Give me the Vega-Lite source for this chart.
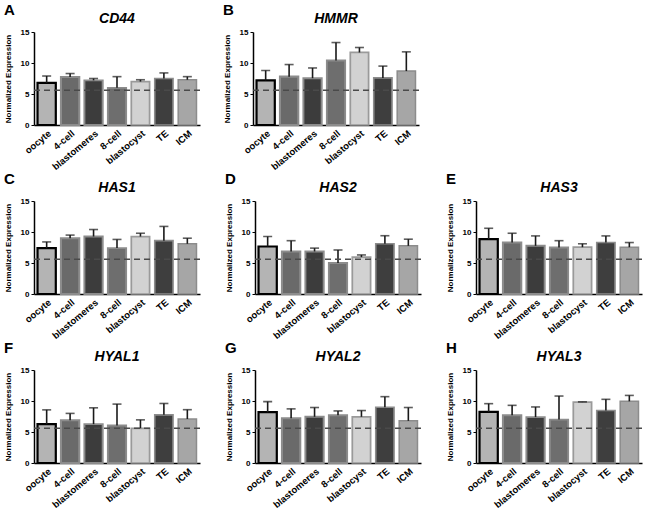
{
  "$schema": "https://vega.github.io/schema/vega-lite/v6.json",
  "padding": {"left": 4, "right": 4, "top": 3, "bottom": 0},
  "spacing": 0,
  "config": {
    "font": "Liberation Sans",
    "view": {"stroke": null},
    "axis": {"domainColor": "#000", "tickColor": "#000", "labelColor": "#000", "titleColor": "#000", "grid": false},
    "axisY": {"tickCount": 4, "labelOverlap": false, "titleFontSize": 8, "titleFontWeight": "bold", "labelFontSize": 8, "labelFontWeight": "bold", "tickSize": 3, "domainWidth": 1.5, "titlePadding": 8}
  },
  "datasets": {
    "expr": [
      {"gene": "CD44", "stage": "oocyte", "mean": 6.8, "upper": 7.9},
      {"gene": "CD44", "stage": "4-cell", "mean": 7.75, "upper": 8.3},
      {"gene": "CD44", "stage": "blastomeres", "mean": 7.2, "upper": 7.5},
      {"gene": "CD44", "stage": "8-cell", "mean": 6.0, "upper": 7.8},
      {"gene": "CD44", "stage": "blastocyst", "mean": 7.0, "upper": 7.3},
      {"gene": "CD44", "stage": "TE", "mean": 7.5, "upper": 8.4},
      {"gene": "CD44", "stage": "ICM", "mean": 7.3, "upper": 7.8},
      {"gene": "HMMR", "stage": "oocyte", "mean": 7.2, "upper": 8.8},
      {"gene": "HMMR", "stage": "4-cell", "mean": 7.8, "upper": 9.75},
      {"gene": "HMMR", "stage": "blastomeres", "mean": 7.55, "upper": 9.2},
      {"gene": "HMMR", "stage": "8-cell", "mean": 10.4, "upper": 13.3},
      {"gene": "HMMR", "stage": "blastocyst", "mean": 11.7, "upper": 12.5},
      {"gene": "HMMR", "stage": "TE", "mean": 7.6, "upper": 9.5},
      {"gene": "HMMR", "stage": "ICM", "mean": 8.7, "upper": 11.8},
      {"gene": "HAS1", "stage": "oocyte", "mean": 7.4, "upper": 8.4},
      {"gene": "HAS1", "stage": "4-cell", "mean": 9.0, "upper": 9.5},
      {"gene": "HAS1", "stage": "blastomeres", "mean": 9.27, "upper": 10.4},
      {"gene": "HAS1", "stage": "8-cell", "mean": 7.4, "upper": 8.8},
      {"gene": "HAS1", "stage": "blastocyst", "mean": 9.27, "upper": 9.8},
      {"gene": "HAS1", "stage": "TE", "mean": 8.6, "upper": 10.9},
      {"gene": "HAS1", "stage": "ICM", "mean": 8.1, "upper": 9.0},
      {"gene": "HAS2", "stage": "oocyte", "mean": 7.66, "upper": 9.27},
      {"gene": "HAS2", "stage": "4-cell", "mean": 6.86, "upper": 8.6},
      {"gene": "HAS2", "stage": "blastomeres", "mean": 6.86, "upper": 7.4},
      {"gene": "HAS2", "stage": "8-cell", "mean": 5.0, "upper": 7.1},
      {"gene": "HAS2", "stage": "blastocyst", "mean": 5.95, "upper": 6.3},
      {"gene": "HAS2", "stage": "TE", "mean": 8.1, "upper": 9.4},
      {"gene": "HAS2", "stage": "ICM", "mean": 7.77, "upper": 8.84},
      {"gene": "HAS3", "stage": "oocyte", "mean": 8.84, "upper": 10.6},
      {"gene": "HAS3", "stage": "4-cell", "mean": 8.3, "upper": 9.8},
      {"gene": "HAS3", "stage": "blastomeres", "mean": 7.77, "upper": 9.37},
      {"gene": "HAS3", "stage": "8-cell", "mean": 7.5, "upper": 8.6},
      {"gene": "HAS3", "stage": "blastocyst", "mean": 7.55, "upper": 8.1},
      {"gene": "HAS3", "stage": "TE", "mean": 8.3, "upper": 9.37},
      {"gene": "HAS3", "stage": "ICM", "mean": 7.55, "upper": 8.3},
      {"gene": "HYAL1", "stage": "oocyte", "mean": 6.27, "upper": 8.57},
      {"gene": "HYAL1", "stage": "4-cell", "mean": 6.9, "upper": 8.0},
      {"gene": "HYAL1", "stage": "blastomeres", "mean": 6.27, "upper": 8.9},
      {"gene": "HYAL1", "stage": "8-cell", "mean": 6.05, "upper": 9.5},
      {"gene": "HYAL1", "stage": "blastocyst", "mean": 5.6, "upper": 6.96},
      {"gene": "HYAL1", "stage": "TE", "mean": 7.77, "upper": 9.6},
      {"gene": "HYAL1", "stage": "ICM", "mean": 7.1, "upper": 8.6},
      {"gene": "HYAL2", "stage": "oocyte", "mean": 8.2, "upper": 9.9},
      {"gene": "HYAL2", "stage": "4-cell", "mean": 7.23, "upper": 8.73},
      {"gene": "HYAL2", "stage": "blastomeres", "mean": 7.45, "upper": 8.95},
      {"gene": "HYAL2", "stage": "8-cell", "mean": 7.7, "upper": 8.4},
      {"gene": "HYAL2", "stage": "blastocyst", "mean": 7.45, "upper": 8.46},
      {"gene": "HYAL2", "stage": "TE", "mean": 9.0, "upper": 10.7},
      {"gene": "HYAL2", "stage": "ICM", "mean": 6.8, "upper": 8.95},
      {"gene": "HYAL3", "stage": "oocyte", "mean": 8.24, "upper": 9.57},
      {"gene": "HYAL3", "stage": "4-cell", "mean": 7.7, "upper": 9.3},
      {"gene": "HYAL3", "stage": "blastomeres", "mean": 7.4, "upper": 9.04},
      {"gene": "HYAL3", "stage": "8-cell", "mean": 7.0, "upper": 10.8},
      {"gene": "HYAL3", "stage": "blastocyst", "mean": 9.82, "upper": 9.86},
      {"gene": "HYAL3", "stage": "TE", "mean": 8.46, "upper": 10.27},
      {"gene": "HYAL3", "stage": "ICM", "mean": 9.95, "upper": 10.9}
    ],
    "ref": [{"baseline": 5.6}]
  },
  "vconcat": [
    {"spacing": 22, "hconcat": [
      {"title": {"text": "A", "anchor": "start", "fontSize": 15, "fontWeight": "bold", "offset": -6},
       "vconcat": [{
        "width": 166, "height": 93,
        "title": {"text": "CD44", "fontStyle": "italic", "fontWeight": "bold", "fontSize": 14, "offset": 2},
        "layer": [
          {"data": {"name": "expr"}, "transform": [{"filter": "datum.gene === 'CD44'"}],
           "mark": {"type": "bar"},
           "encoding": {
             "x": {"field": "stage", "type": "nominal", "sort": ["oocyte","4-cell","blastomeres","8-cell","blastocyst","TE","ICM"], "scale": {"paddingInner": 0.22, "paddingOuter": 0.15}, "axis": {"title": null, "labelAngle": -40, "labelFontSize": 9.5, "labelFontWeight": "bold", "ticks": false, "labelPadding": 3, "domainWidth": 1.5}},
             "y": {"field": "mean", "type": "quantitative", "title": "Normalized Expression", "scale": {"domain": [0, 15], "padding": 0, "nice": false}},
             "fill": {"field": "stage", "type": "nominal", "scale": {"domain": ["oocyte","4-cell","blastomeres","8-cell","blastocyst","TE","ICM"], "range": ["#b4b4b4","#6a6a6a","#3c3c3c","#6e6e6e","#d2d2d2","#3e3e3e","#a6a6a6"]}, "legend": null},
             "stroke": {"field": "stage", "type": "nominal", "scale": {"domain": ["oocyte","4-cell","blastomeres","8-cell","blastocyst","TE","ICM"], "range": ["#000000","#8c8c8c","#8c8c8c","#8c8c8c","#9a9a9a","#8c8c8c","#8c8c8c"]}, "legend": null},
             "strokeWidth": {"field": "stage", "type": "nominal", "scale": {"domain": ["oocyte","4-cell","blastomeres","8-cell","blastocyst","TE","ICM"], "range": [2.2,1.5,1.5,1.5,1.5,1.5,1.5]}, "legend": null}
           }},
          {"data": {"name": "expr"}, "transform": [{"filter": "datum.gene === 'CD44'"}],
           "mark": {"type": "rule", "color": "#1a1a1a", "strokeWidth": 1.6},
           "encoding": {"x": {"field": "stage", "type": "nominal", "sort": ["oocyte","4-cell","blastomeres","8-cell","blastocyst","TE","ICM"]}, "y": {"field": "mean", "type": "quantitative", "title": "Normalized Expression"}, "y2": {"field": "upper"}}},
          {"data": {"name": "expr"}, "transform": [{"filter": "datum.gene === 'CD44'"}],
           "mark": {"type": "tick", "color": "#1a1a1a", "thickness": 1.6, "size": 9},
           "encoding": {"x": {"field": "stage", "type": "nominal", "sort": ["oocyte","4-cell","blastomeres","8-cell","blastocyst","TE","ICM"]}, "y": {"field": "upper", "type": "quantitative", "title": "Normalized Expression"}}},
          {"data": {"name": "ref"},
           "mark": {"type": "rule", "color": "#4a4a4a", "strokeWidth": 1.5, "strokeDash": [6, 4]},
           "encoding": {"y": {"field": "baseline", "type": "quantitative", "title": "Normalized Expression"}}}
        ]}]},
      {"title": {"text": "B", "anchor": "start", "fontSize": 15, "fontWeight": "bold", "offset": -6},
       "vconcat": [{
        "width": 166, "height": 93,
        "title": {"text": "HMMR", "fontStyle": "italic", "fontWeight": "bold", "fontSize": 14, "offset": 2},
        "layer": [
          {"data": {"name": "expr"}, "transform": [{"filter": "datum.gene === 'HMMR'"}],
           "mark": {"type": "bar"},
           "encoding": {
             "x": {"field": "stage", "type": "nominal", "sort": ["oocyte","4-cell","blastomeres","8-cell","blastocyst","TE","ICM"], "scale": {"paddingInner": 0.22, "paddingOuter": 0.15}, "axis": {"title": null, "labelAngle": -40, "labelFontSize": 9.5, "labelFontWeight": "bold", "ticks": false, "labelPadding": 3, "domainWidth": 1.5}},
             "y": {"field": "mean", "type": "quantitative", "title": "Normalized Expression", "scale": {"domain": [0, 15], "padding": 0, "nice": false}},
             "fill": {"field": "stage", "type": "nominal", "scale": {"domain": ["oocyte","4-cell","blastomeres","8-cell","blastocyst","TE","ICM"], "range": ["#b4b4b4","#6a6a6a","#3c3c3c","#6e6e6e","#d2d2d2","#3e3e3e","#a6a6a6"]}, "legend": null},
             "stroke": {"field": "stage", "type": "nominal", "scale": {"domain": ["oocyte","4-cell","blastomeres","8-cell","blastocyst","TE","ICM"], "range": ["#000000","#8c8c8c","#8c8c8c","#8c8c8c","#9a9a9a","#8c8c8c","#8c8c8c"]}, "legend": null},
             "strokeWidth": {"field": "stage", "type": "nominal", "scale": {"domain": ["oocyte","4-cell","blastomeres","8-cell","blastocyst","TE","ICM"], "range": [2.2,1.5,1.5,1.5,1.5,1.5,1.5]}, "legend": null}
           }},
          {"data": {"name": "expr"}, "transform": [{"filter": "datum.gene === 'HMMR'"}],
           "mark": {"type": "rule", "color": "#1a1a1a", "strokeWidth": 1.6},
           "encoding": {"x": {"field": "stage", "type": "nominal", "sort": ["oocyte","4-cell","blastomeres","8-cell","blastocyst","TE","ICM"]}, "y": {"field": "mean", "type": "quantitative", "title": "Normalized Expression"}, "y2": {"field": "upper"}}},
          {"data": {"name": "expr"}, "transform": [{"filter": "datum.gene === 'HMMR'"}],
           "mark": {"type": "tick", "color": "#1a1a1a", "thickness": 1.6, "size": 9},
           "encoding": {"x": {"field": "stage", "type": "nominal", "sort": ["oocyte","4-cell","blastomeres","8-cell","blastocyst","TE","ICM"]}, "y": {"field": "upper", "type": "quantitative", "title": "Normalized Expression"}}},
          {"data": {"name": "ref"},
           "mark": {"type": "rule", "color": "#4a4a4a", "strokeWidth": 1.5, "strokeDash": [6, 4]},
           "encoding": {"y": {"field": "baseline", "type": "quantitative", "title": "Normalized Expression"}}}
        ]}]}
    ]},
    {"spacing": 24, "hconcat": [
      {"title": {"text": "C", "anchor": "start", "fontSize": 15, "fontWeight": "bold", "offset": -6},
       "vconcat": [{
        "width": 166, "height": 93,
        "title": {"text": "HAS1", "fontStyle": "italic", "fontWeight": "bold", "fontSize": 14, "offset": 2},
        "layer": [
          {"data": {"name": "expr"}, "transform": [{"filter": "datum.gene === 'HAS1'"}],
           "mark": {"type": "bar"},
           "encoding": {
             "x": {"field": "stage", "type": "nominal", "sort": ["oocyte","4-cell","blastomeres","8-cell","blastocyst","TE","ICM"], "scale": {"paddingInner": 0.22, "paddingOuter": 0.15}, "axis": {"title": null, "labelAngle": -40, "labelFontSize": 9.5, "labelFontWeight": "bold", "ticks": false, "labelPadding": 3, "domainWidth": 1.5}},
             "y": {"field": "mean", "type": "quantitative", "title": "Normalized Expression", "scale": {"domain": [0, 15], "padding": 0, "nice": false}},
             "fill": {"field": "stage", "type": "nominal", "scale": {"domain": ["oocyte","4-cell","blastomeres","8-cell","blastocyst","TE","ICM"], "range": ["#b4b4b4","#6a6a6a","#3c3c3c","#6e6e6e","#d2d2d2","#3e3e3e","#a6a6a6"]}, "legend": null},
             "stroke": {"field": "stage", "type": "nominal", "scale": {"domain": ["oocyte","4-cell","blastomeres","8-cell","blastocyst","TE","ICM"], "range": ["#000000","#8c8c8c","#8c8c8c","#8c8c8c","#9a9a9a","#8c8c8c","#8c8c8c"]}, "legend": null},
             "strokeWidth": {"field": "stage", "type": "nominal", "scale": {"domain": ["oocyte","4-cell","blastomeres","8-cell","blastocyst","TE","ICM"], "range": [2.2,1.5,1.5,1.5,1.5,1.5,1.5]}, "legend": null}
           }},
          {"data": {"name": "expr"}, "transform": [{"filter": "datum.gene === 'HAS1'"}],
           "mark": {"type": "rule", "color": "#1a1a1a", "strokeWidth": 1.6},
           "encoding": {"x": {"field": "stage", "type": "nominal", "sort": ["oocyte","4-cell","blastomeres","8-cell","blastocyst","TE","ICM"]}, "y": {"field": "mean", "type": "quantitative", "title": "Normalized Expression"}, "y2": {"field": "upper"}}},
          {"data": {"name": "expr"}, "transform": [{"filter": "datum.gene === 'HAS1'"}],
           "mark": {"type": "tick", "color": "#1a1a1a", "thickness": 1.6, "size": 9},
           "encoding": {"x": {"field": "stage", "type": "nominal", "sort": ["oocyte","4-cell","blastomeres","8-cell","blastocyst","TE","ICM"]}, "y": {"field": "upper", "type": "quantitative", "title": "Normalized Expression"}}},
          {"data": {"name": "ref"},
           "mark": {"type": "rule", "color": "#4a4a4a", "strokeWidth": 1.5, "strokeDash": [6, 4]},
           "encoding": {"y": {"field": "baseline", "type": "quantitative", "title": "Normalized Expression"}}}
        ]}]},
      {"title": {"text": "D", "anchor": "start", "fontSize": 15, "fontWeight": "bold", "offset": -6},
       "vconcat": [{
        "width": 166, "height": 93,
        "title": {"text": "HAS2", "fontStyle": "italic", "fontWeight": "bold", "fontSize": 14, "offset": 2},
        "layer": [
          {"data": {"name": "expr"}, "transform": [{"filter": "datum.gene === 'HAS2'"}],
           "mark": {"type": "bar"},
           "encoding": {
             "x": {"field": "stage", "type": "nominal", "sort": ["oocyte","4-cell","blastomeres","8-cell","blastocyst","TE","ICM"], "scale": {"paddingInner": 0.22, "paddingOuter": 0.15}, "axis": {"title": null, "labelAngle": -40, "labelFontSize": 9.5, "labelFontWeight": "bold", "ticks": false, "labelPadding": 3, "domainWidth": 1.5}},
             "y": {"field": "mean", "type": "quantitative", "title": "Normalized Expression", "scale": {"domain": [0, 15], "padding": 0, "nice": false}},
             "fill": {"field": "stage", "type": "nominal", "scale": {"domain": ["oocyte","4-cell","blastomeres","8-cell","blastocyst","TE","ICM"], "range": ["#b4b4b4","#6a6a6a","#3c3c3c","#6e6e6e","#d2d2d2","#3e3e3e","#a6a6a6"]}, "legend": null},
             "stroke": {"field": "stage", "type": "nominal", "scale": {"domain": ["oocyte","4-cell","blastomeres","8-cell","blastocyst","TE","ICM"], "range": ["#000000","#8c8c8c","#8c8c8c","#8c8c8c","#9a9a9a","#8c8c8c","#8c8c8c"]}, "legend": null},
             "strokeWidth": {"field": "stage", "type": "nominal", "scale": {"domain": ["oocyte","4-cell","blastomeres","8-cell","blastocyst","TE","ICM"], "range": [2.2,1.5,1.5,1.5,1.5,1.5,1.5]}, "legend": null}
           }},
          {"data": {"name": "expr"}, "transform": [{"filter": "datum.gene === 'HAS2'"}],
           "mark": {"type": "rule", "color": "#1a1a1a", "strokeWidth": 1.6},
           "encoding": {"x": {"field": "stage", "type": "nominal", "sort": ["oocyte","4-cell","blastomeres","8-cell","blastocyst","TE","ICM"]}, "y": {"field": "mean", "type": "quantitative", "title": "Normalized Expression"}, "y2": {"field": "upper"}}},
          {"data": {"name": "expr"}, "transform": [{"filter": "datum.gene === 'HAS2'"}],
           "mark": {"type": "tick", "color": "#1a1a1a", "thickness": 1.6, "size": 9},
           "encoding": {"x": {"field": "stage", "type": "nominal", "sort": ["oocyte","4-cell","blastomeres","8-cell","blastocyst","TE","ICM"]}, "y": {"field": "upper", "type": "quantitative", "title": "Normalized Expression"}}},
          {"data": {"name": "ref"},
           "mark": {"type": "rule", "color": "#4a4a4a", "strokeWidth": 1.5, "strokeDash": [6, 4]},
           "encoding": {"y": {"field": "baseline", "type": "quantitative", "title": "Normalized Expression"}}}
        ]}]},
      {"title": {"text": "E", "anchor": "start", "fontSize": 15, "fontWeight": "bold", "offset": -6},
       "vconcat": [{
        "width": 166, "height": 93,
        "title": {"text": "HAS3", "fontStyle": "italic", "fontWeight": "bold", "fontSize": 14, "offset": 2},
        "layer": [
          {"data": {"name": "expr"}, "transform": [{"filter": "datum.gene === 'HAS3'"}],
           "mark": {"type": "bar"},
           "encoding": {
             "x": {"field": "stage", "type": "nominal", "sort": ["oocyte","4-cell","blastomeres","8-cell","blastocyst","TE","ICM"], "scale": {"paddingInner": 0.22, "paddingOuter": 0.15}, "axis": {"title": null, "labelAngle": -40, "labelFontSize": 9.5, "labelFontWeight": "bold", "ticks": false, "labelPadding": 3, "domainWidth": 1.5}},
             "y": {"field": "mean", "type": "quantitative", "title": "Normalized Expression", "scale": {"domain": [0, 15], "padding": 0, "nice": false}},
             "fill": {"field": "stage", "type": "nominal", "scale": {"domain": ["oocyte","4-cell","blastomeres","8-cell","blastocyst","TE","ICM"], "range": ["#b4b4b4","#6a6a6a","#3c3c3c","#6e6e6e","#d2d2d2","#3e3e3e","#a6a6a6"]}, "legend": null},
             "stroke": {"field": "stage", "type": "nominal", "scale": {"domain": ["oocyte","4-cell","blastomeres","8-cell","blastocyst","TE","ICM"], "range": ["#000000","#8c8c8c","#8c8c8c","#8c8c8c","#9a9a9a","#8c8c8c","#8c8c8c"]}, "legend": null},
             "strokeWidth": {"field": "stage", "type": "nominal", "scale": {"domain": ["oocyte","4-cell","blastomeres","8-cell","blastocyst","TE","ICM"], "range": [2.2,1.5,1.5,1.5,1.5,1.5,1.5]}, "legend": null}
           }},
          {"data": {"name": "expr"}, "transform": [{"filter": "datum.gene === 'HAS3'"}],
           "mark": {"type": "rule", "color": "#1a1a1a", "strokeWidth": 1.6},
           "encoding": {"x": {"field": "stage", "type": "nominal", "sort": ["oocyte","4-cell","blastomeres","8-cell","blastocyst","TE","ICM"]}, "y": {"field": "mean", "type": "quantitative", "title": "Normalized Expression"}, "y2": {"field": "upper"}}},
          {"data": {"name": "expr"}, "transform": [{"filter": "datum.gene === 'HAS3'"}],
           "mark": {"type": "tick", "color": "#1a1a1a", "thickness": 1.6, "size": 9},
           "encoding": {"x": {"field": "stage", "type": "nominal", "sort": ["oocyte","4-cell","blastomeres","8-cell","blastocyst","TE","ICM"]}, "y": {"field": "upper", "type": "quantitative", "title": "Normalized Expression"}}},
          {"data": {"name": "ref"},
           "mark": {"type": "rule", "color": "#4a4a4a", "strokeWidth": 1.5, "strokeDash": [6, 4]},
           "encoding": {"y": {"field": "baseline", "type": "quantitative", "title": "Normalized Expression"}}}
        ]}]}
    ]},
    {"spacing": 24, "hconcat": [
      {"title": {"text": "F", "anchor": "start", "fontSize": 15, "fontWeight": "bold", "offset": -6},
       "vconcat": [{
        "width": 166, "height": 93,
        "title": {"text": "HYAL1", "fontStyle": "italic", "fontWeight": "bold", "fontSize": 14, "offset": 2},
        "layer": [
          {"data": {"name": "expr"}, "transform": [{"filter": "datum.gene === 'HYAL1'"}],
           "mark": {"type": "bar"},
           "encoding": {
             "x": {"field": "stage", "type": "nominal", "sort": ["oocyte","4-cell","blastomeres","8-cell","blastocyst","TE","ICM"], "scale": {"paddingInner": 0.22, "paddingOuter": 0.15}, "axis": {"title": null, "labelAngle": -40, "labelFontSize": 9.5, "labelFontWeight": "bold", "ticks": false, "labelPadding": 3, "domainWidth": 1.5}},
             "y": {"field": "mean", "type": "quantitative", "title": "Normalized Expression", "scale": {"domain": [0, 15], "padding": 0, "nice": false}},
             "fill": {"field": "stage", "type": "nominal", "scale": {"domain": ["oocyte","4-cell","blastomeres","8-cell","blastocyst","TE","ICM"], "range": ["#b4b4b4","#6a6a6a","#3c3c3c","#6e6e6e","#d2d2d2","#3e3e3e","#a6a6a6"]}, "legend": null},
             "stroke": {"field": "stage", "type": "nominal", "scale": {"domain": ["oocyte","4-cell","blastomeres","8-cell","blastocyst","TE","ICM"], "range": ["#000000","#8c8c8c","#8c8c8c","#8c8c8c","#9a9a9a","#8c8c8c","#8c8c8c"]}, "legend": null},
             "strokeWidth": {"field": "stage", "type": "nominal", "scale": {"domain": ["oocyte","4-cell","blastomeres","8-cell","blastocyst","TE","ICM"], "range": [2.2,1.5,1.5,1.5,1.5,1.5,1.5]}, "legend": null}
           }},
          {"data": {"name": "expr"}, "transform": [{"filter": "datum.gene === 'HYAL1'"}],
           "mark": {"type": "rule", "color": "#1a1a1a", "strokeWidth": 1.6},
           "encoding": {"x": {"field": "stage", "type": "nominal", "sort": ["oocyte","4-cell","blastomeres","8-cell","blastocyst","TE","ICM"]}, "y": {"field": "mean", "type": "quantitative", "title": "Normalized Expression"}, "y2": {"field": "upper"}}},
          {"data": {"name": "expr"}, "transform": [{"filter": "datum.gene === 'HYAL1'"}],
           "mark": {"type": "tick", "color": "#1a1a1a", "thickness": 1.6, "size": 9},
           "encoding": {"x": {"field": "stage", "type": "nominal", "sort": ["oocyte","4-cell","blastomeres","8-cell","blastocyst","TE","ICM"]}, "y": {"field": "upper", "type": "quantitative", "title": "Normalized Expression"}}},
          {"data": {"name": "ref"},
           "mark": {"type": "rule", "color": "#4a4a4a", "strokeWidth": 1.5, "strokeDash": [6, 4]},
           "encoding": {"y": {"field": "baseline", "type": "quantitative", "title": "Normalized Expression"}}}
        ]}]},
      {"title": {"text": "G", "anchor": "start", "fontSize": 15, "fontWeight": "bold", "offset": -6},
       "vconcat": [{
        "width": 166, "height": 93,
        "title": {"text": "HYAL2", "fontStyle": "italic", "fontWeight": "bold", "fontSize": 14, "offset": 2},
        "layer": [
          {"data": {"name": "expr"}, "transform": [{"filter": "datum.gene === 'HYAL2'"}],
           "mark": {"type": "bar"},
           "encoding": {
             "x": {"field": "stage", "type": "nominal", "sort": ["oocyte","4-cell","blastomeres","8-cell","blastocyst","TE","ICM"], "scale": {"paddingInner": 0.22, "paddingOuter": 0.15}, "axis": {"title": null, "labelAngle": -40, "labelFontSize": 9.5, "labelFontWeight": "bold", "ticks": false, "labelPadding": 3, "domainWidth": 1.5}},
             "y": {"field": "mean", "type": "quantitative", "title": "Normalized Expression", "scale": {"domain": [0, 15], "padding": 0, "nice": false}},
             "fill": {"field": "stage", "type": "nominal", "scale": {"domain": ["oocyte","4-cell","blastomeres","8-cell","blastocyst","TE","ICM"], "range": ["#b4b4b4","#6a6a6a","#3c3c3c","#6e6e6e","#d2d2d2","#3e3e3e","#a6a6a6"]}, "legend": null},
             "stroke": {"field": "stage", "type": "nominal", "scale": {"domain": ["oocyte","4-cell","blastomeres","8-cell","blastocyst","TE","ICM"], "range": ["#000000","#8c8c8c","#8c8c8c","#8c8c8c","#9a9a9a","#8c8c8c","#8c8c8c"]}, "legend": null},
             "strokeWidth": {"field": "stage", "type": "nominal", "scale": {"domain": ["oocyte","4-cell","blastomeres","8-cell","blastocyst","TE","ICM"], "range": [2.2,1.5,1.5,1.5,1.5,1.5,1.5]}, "legend": null}
           }},
          {"data": {"name": "expr"}, "transform": [{"filter": "datum.gene === 'HYAL2'"}],
           "mark": {"type": "rule", "color": "#1a1a1a", "strokeWidth": 1.6},
           "encoding": {"x": {"field": "stage", "type": "nominal", "sort": ["oocyte","4-cell","blastomeres","8-cell","blastocyst","TE","ICM"]}, "y": {"field": "mean", "type": "quantitative", "title": "Normalized Expression"}, "y2": {"field": "upper"}}},
          {"data": {"name": "expr"}, "transform": [{"filter": "datum.gene === 'HYAL2'"}],
           "mark": {"type": "tick", "color": "#1a1a1a", "thickness": 1.6, "size": 9},
           "encoding": {"x": {"field": "stage", "type": "nominal", "sort": ["oocyte","4-cell","blastomeres","8-cell","blastocyst","TE","ICM"]}, "y": {"field": "upper", "type": "quantitative", "title": "Normalized Expression"}}},
          {"data": {"name": "ref"},
           "mark": {"type": "rule", "color": "#4a4a4a", "strokeWidth": 1.5, "strokeDash": [6, 4]},
           "encoding": {"y": {"field": "baseline", "type": "quantitative", "title": "Normalized Expression"}}}
        ]}]},
      {"title": {"text": "H", "anchor": "start", "fontSize": 15, "fontWeight": "bold", "offset": -6},
       "vconcat": [{
        "width": 166, "height": 93,
        "title": {"text": "HYAL3", "fontStyle": "italic", "fontWeight": "bold", "fontSize": 14, "offset": 2},
        "layer": [
          {"data": {"name": "expr"}, "transform": [{"filter": "datum.gene === 'HYAL3'"}],
           "mark": {"type": "bar"},
           "encoding": {
             "x": {"field": "stage", "type": "nominal", "sort": ["oocyte","4-cell","blastomeres","8-cell","blastocyst","TE","ICM"], "scale": {"paddingInner": 0.22, "paddingOuter": 0.15}, "axis": {"title": null, "labelAngle": -40, "labelFontSize": 9.5, "labelFontWeight": "bold", "ticks": false, "labelPadding": 3, "domainWidth": 1.5}},
             "y": {"field": "mean", "type": "quantitative", "title": "Normalized Expression", "scale": {"domain": [0, 15], "padding": 0, "nice": false}},
             "fill": {"field": "stage", "type": "nominal", "scale": {"domain": ["oocyte","4-cell","blastomeres","8-cell","blastocyst","TE","ICM"], "range": ["#b4b4b4","#6a6a6a","#3c3c3c","#6e6e6e","#d2d2d2","#3e3e3e","#a6a6a6"]}, "legend": null},
             "stroke": {"field": "stage", "type": "nominal", "scale": {"domain": ["oocyte","4-cell","blastomeres","8-cell","blastocyst","TE","ICM"], "range": ["#000000","#8c8c8c","#8c8c8c","#8c8c8c","#9a9a9a","#8c8c8c","#8c8c8c"]}, "legend": null},
             "strokeWidth": {"field": "stage", "type": "nominal", "scale": {"domain": ["oocyte","4-cell","blastomeres","8-cell","blastocyst","TE","ICM"], "range": [2.2,1.5,1.5,1.5,1.5,1.5,1.5]}, "legend": null}
           }},
          {"data": {"name": "expr"}, "transform": [{"filter": "datum.gene === 'HYAL3'"}],
           "mark": {"type": "rule", "color": "#1a1a1a", "strokeWidth": 1.6},
           "encoding": {"x": {"field": "stage", "type": "nominal", "sort": ["oocyte","4-cell","blastomeres","8-cell","blastocyst","TE","ICM"]}, "y": {"field": "mean", "type": "quantitative", "title": "Normalized Expression"}, "y2": {"field": "upper"}}},
          {"data": {"name": "expr"}, "transform": [{"filter": "datum.gene === 'HYAL3'"}],
           "mark": {"type": "tick", "color": "#1a1a1a", "thickness": 1.6, "size": 9},
           "encoding": {"x": {"field": "stage", "type": "nominal", "sort": ["oocyte","4-cell","blastomeres","8-cell","blastocyst","TE","ICM"]}, "y": {"field": "upper", "type": "quantitative", "title": "Normalized Expression"}}},
          {"data": {"name": "ref"},
           "mark": {"type": "rule", "color": "#4a4a4a", "strokeWidth": 1.5, "strokeDash": [6, 4]},
           "encoding": {"y": {"field": "baseline", "type": "quantitative", "title": "Normalized Expression"}}}
        ]}]}
    ]}
  ]
}
